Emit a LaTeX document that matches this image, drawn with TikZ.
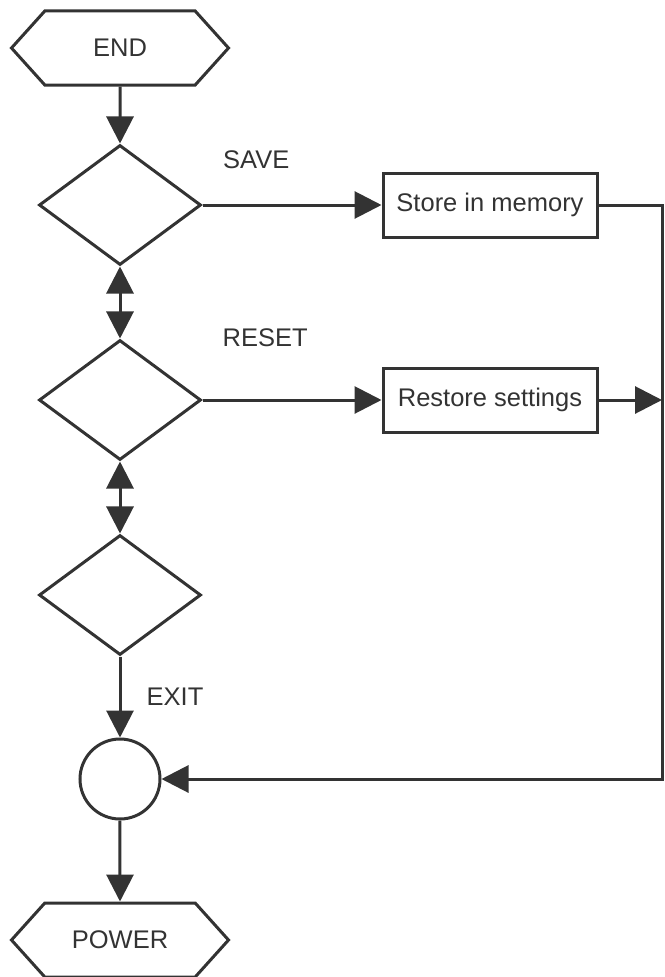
\documentclass[tikz,border=0pt]{standalone}
\usepackage{fontspec}
\setmainfont{Liberation Sans}
\usetikzlibrary{shapes.geometric, shapes.symbols, arrows.meta}
\tikzstyle{terminal} = [signal, signal to=west and east, signal pointer angle=96, minimum width=217pt, minimum height=74pt, text centered, draw=black!80, line width=3pt]
\tikzstyle{decision} = [diamond, minimum width=162pt, minimum height=120pt, inner sep=0pt, draw=black!80, line width=3pt]
\tikzstyle{process} = [rectangle, minimum width=214pt, minimum height=64pt, text centered, draw=black!80, line width=3pt]
\tikzstyle{junction} = [circle, minimum size=80pt, inner sep=0pt, draw=black!80, line width=3pt]
\tikzstyle{tag} = [text=black!80]
\tikzstyle{edge} = [line width=3pt, draw=black!80, -{Triangle[length=27pt, width=27pt]}]
\tikzstyle{twoway} = [edge, {Triangle[length=27pt, width=27pt]}-{Triangle[length=27pt, width=27pt]}]

\begin{document}
\begin{tikzpicture}[node distance=195pt, text=black!80, font=\fontsize{25.5}{30}\selectfont]

\useasboundingbox (-120pt,48pt) rectangle (544pt,-929pt);

\node (end) [terminal] {END};
\node (save) [decision, below of=end, yshift=38pt] {};
\node (reset) [decision, below of=save] {};
\node (exit) [decision, below of=reset] {};
\node (merge) [junction, below of=exit, yshift=11pt] {};
\node (power) [terminal, below of=merge, yshift=34pt] {POWER};
\node (store) [process, right of=save, xshift=175pt] {Store in memory};
\node (restore) [process, right of=reset, xshift=175pt] {Restore settings};
\coordinate [right of=store, xshift=-23pt] (rail);

\draw [edge] (end) -- (save);
\draw [twoway] (save) -- (reset);
\draw [twoway] (reset) -- (exit);
\draw [edge] (save) -- node[tag, pos=0.3, yshift=45pt]{SAVE} (store);
\draw [edge] (reset) -- node[tag, pos=0.35, yshift=62pt]{RESET} (restore);
\draw [edge] (exit) -- node[tag, pos=0.5, xshift=55pt]{EXIT} (merge);
\draw [edge] (store) -- (rail) |- (merge);
\draw [edge] (restore) -- (restore -| rail);
\draw [edge] (merge) -- (power);

\end{tikzpicture}
\end{document}
